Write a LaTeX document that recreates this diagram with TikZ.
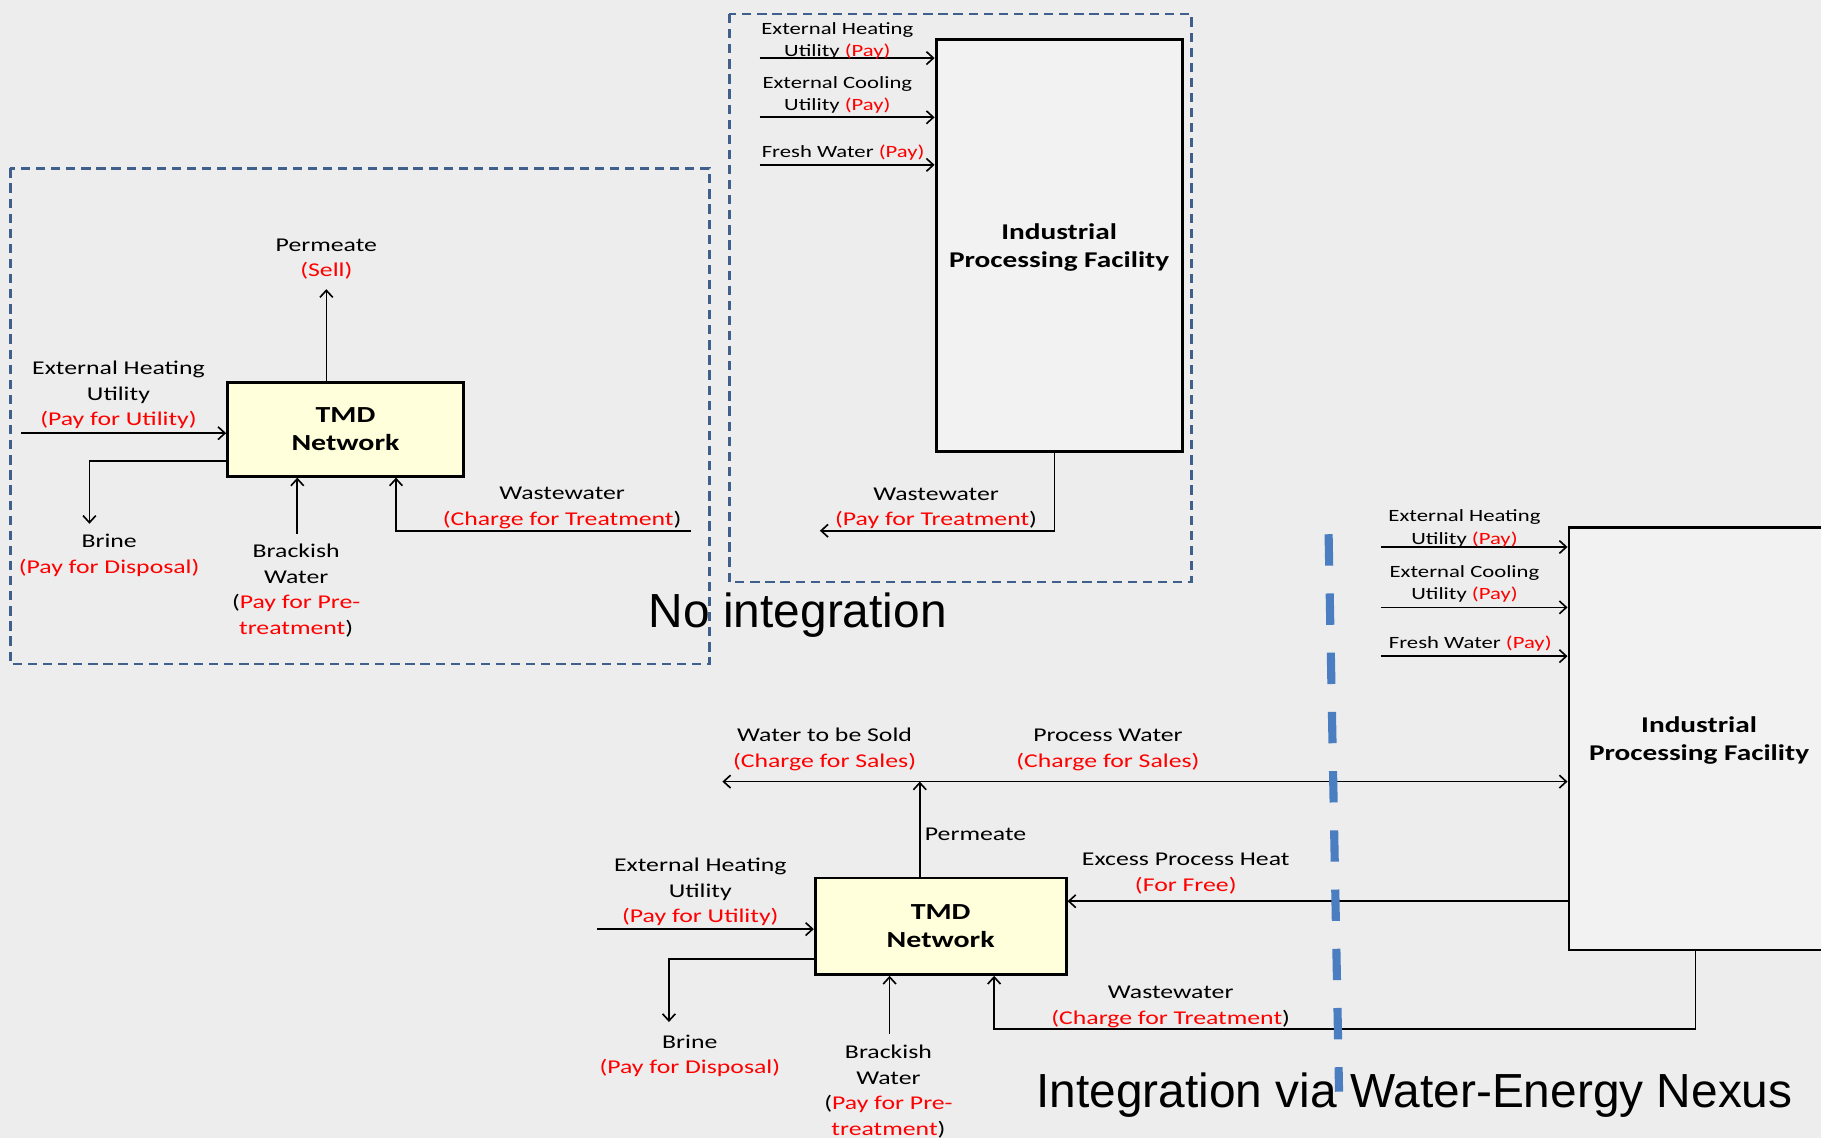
\documentclass[tikz,border=0pt]{standalone}
\usepackage{fontspec}
\setmainfont{Carlito}
\newfontfamily\lblfont[FakeStretch=1.32]{Carlito}
\newfontfamily\boxfont[FakeStretch=1.3]{Carlito}
\newfontfamily\titlefont{Liberation Sans}
\usetikzlibrary{arrows.meta}

\definecolor{bgc}{HTML}{EDEDED}
\definecolor{payred}{HTML}{FF0000}
\definecolor{boxdash}{HTML}{3F5F8C}
\definecolor{nexusblue}{HTML}{4A7EC1}
\definecolor{tmdfill}{HTML}{FFFFDC}
\definecolor{ipffill}{HTML}{F2F2F2}

\newcommand{\rd}[1]{\textcolor{payred}{#1}}

\begin{document}
\begin{tikzpicture}[x=1pt,y=-1pt,
  tip/.tip={Straight Barb[length=6pt,width=11pt,line width=1.4pt]},
  flow/.style={line width=1.4pt, -tip},
  twoway/.style={line width=1.4pt, tip-tip},
  unitbox/.style={draw=black, line width=2.5pt, align=center, inner sep=0pt},
  tmdbox/.style={unitbox, fill=tmdfill, font=\boxfont\bfseries\fontsize{19.8}{24.5}\selectfont},
  ipfbox/.style={unitbox, fill=ipffill, text depth=-5pt, font=\boxfont\bfseries\fontsize{19.4}{24.5}\selectfont},
  bigtag/.style={align=center, inner sep=0pt, font=\lblfont\fontsize{16.8}{22}\selectfont},
  smalltag/.style={align=center, inner sep=0pt, font=\lblfont\fontsize{14.8}{19}\selectfont},
  zone/.style={draw=boxdash, line width=2pt, dash pattern=on 8pt off 5pt},
  caption/.style={inner sep=0pt, font=\titlefont\fontsize{41.2}{48}\selectfont},
]
% page
\fill[bgc] (0,0) rectangle (1568,980);
\useasboundingbox (0,0) rectangle (1568,980);

% ---------------- stand-alone TMD network ----------------
\draw[zone] (9,145) rectangle (611,572);
\node[tmdbox, minimum width=203pt, minimum height=81pt] (tmdA) at (297.5,369.5) {TMD\\Network};

\coordinate (permA) at (281,249);
\draw[flow] (permA |- tmdA.north) -- (permA);
\node[bigtag] (permAlbl) at (281,223) {Permeate\\\rd{(Sell)}};

\coordinate (heatA) at (18,373);
\draw[flow] (heatA) -- (heatA -| tmdA.west);
\node[bigtag] (heatAlbl) at (102,340) {External Heating\\Utility\\\rd{(Pay for Utility)}};

\coordinate (brineA) at (77,451);
\draw[flow] (tmdA.west |- 0,397) -| (brineA);
\node[bigtag] (brineAlbl) at (94,478) {Brine\\\rd{(Pay for Disposal)}};

\coordinate (brackA) at (256,460);
\draw[flow] (brackA) -- (brackA |- tmdA.south);
\node[bigtag] (brackAlbl) at (255,508.5) {Brackish\\Water\\(\rd{Pay for Pre-}\\\rd{treatment})};

\coordinate (wwA) at (595,457);
\coordinate (wwAin) at (341,410);
\draw[flow] (wwA) -| (wwAin |- tmdA.south);
\node[bigtag] (wwAlbl) at (484,437.5) {Wastewater\\\rd{(Charge for Treatment})};

% ---------------- stand-alone processing facility ----------------
\draw[zone] (628,12) rectangle (1026,501);
\node[ipfbox, minimum width=212pt, minimum height=355pt] (ipfA) at (912,211.5) {Industrial\\Processing Facility};

\coordinate (hotA) at (654,50);
\coordinate (coldA) at (654,101);
\coordinate (freshA) at (654,142);
\draw[flow] (hotA) -- (hotA -| ipfA.west);
\draw[flow] (coldA) -- (coldA -| ipfA.west);
\draw[flow] (freshA) -- (freshA -| ipfA.west);
\node[smalltag] (hotAlbl) at (721,35) {External Heating\\Utility \rd{(Pay)}};
\node[smalltag] (coldAlbl) at (721,82) {External Cooling\\Utility \rd{(Pay)}};
\node[smalltag] (freshAlbl) at (726,131.5) {Fresh Water \rd{(Pay)}};

\coordinate (wwAout) at (706,457);
\coordinate (wwAdrop) at (908,389);
\draw[flow] (wwAdrop |- ipfA.south) |- (wwAout);
\node[bigtag] (wwAoutlbl) at (806,437.5) {Wastewater\\\rd{(Pay for Treatment})};

\node[caption] (capA) at (687,530) {No integration};

% ---------------- integrated system ----------------
\node[ipfbox, minimum width=224pt, minimum height=364pt] (ipfB) at (1463,636) {Industrial\\Processing Facility};

\coordinate (hotB) at (1189,471);
\coordinate (coldB) at (1189,523);
\coordinate (freshB) at (1189,565);
\draw[flow] (hotB) -- (hotB -| ipfB.west);
\draw[flow] (coldB) -- (coldB -| ipfB.west);
\draw[flow] (freshB) -- (freshB -| ipfB.west);
\node[smalltag] (hotBlbl) at (1261,455) {External Heating\\Utility \rd{(Pay)}};
\node[smalltag] (coldBlbl) at (1261,503) {External Cooling\\Utility \rd{(Pay)}};
\node[smalltag] (freshBlbl) at (1266,554.5) {Fresh Water \rd{(Pay)}};

\node[tmdbox, minimum width=216pt, minimum height=83pt] (tmdB) at (810,797.5) {TMD\\Network};

\coordinate (jn) at (792,673);
\coordinate (sold) at (622,673);
\draw[flow] (jn |- tmdB.north) -- (jn);
\draw[twoway] (sold) -- (sold -| ipfB.west);
\node[bigtag] (soldlbl) at (710,645.5) {Water to be Sold\\\rd{(Charge for Sales)}};
\node[bigtag] (proclbl) at (954,645.5) {Process Water\\\rd{(Charge for Sales)}};
\node[bigtag] (permBlbl) at (840,718) {Permeate};

\coordinate (xheat) at (1351,776);
\draw[flow] (xheat) -- (xheat -| tmdB.east);
\node[bigtag] (xheatlbl) at (1021,752) {Excess Process Heat\\\rd{(For Free)}};

\coordinate (heatB) at (514,800);
\draw[flow] (heatB) -- (heatB -| tmdB.west);
\node[bigtag] (heatBlbl) at (603,768) {External Heating\\Utility\\\rd{(Pay for Utility)}};

\coordinate (brineB) at (576,880);
\draw[flow] (tmdB.west |- 0,826) -| (brineB);
\node[bigtag] (brineBlbl) at (594,909) {Brine\\\rd{(Pay for Disposal)}};

\coordinate (brackB) at (766,890);
\draw[flow] (brackB) -- (brackB |- tmdB.south);
\node[bigtag] (brackBlbl) at (765,940) {Brackish\\Water\\(\rd{Pay for Pre-}\\\rd{treatment})};

\coordinate (wwBturn) at (1460,886);
\coordinate (wwBin) at (856,839);
\draw[flow] (wwBturn |- ipfB.south) -- (wwBturn) -- (wwBin |- wwBturn) -- (wwBin |- tmdB.south);
\node[bigtag] (wwBlbl) at (1008,867) {Wastewater\\\rd{(Charge for Treatment})};

\node[caption] (capB) at (1218,943) {Integration via Water-Energy Nexus};

% water-energy nexus boundary
\draw[nexusblue, line width=7pt, dash pattern=on 27pt off 24pt] (1144,460) -- (1153,940);
\end{tikzpicture}
\end{document}
